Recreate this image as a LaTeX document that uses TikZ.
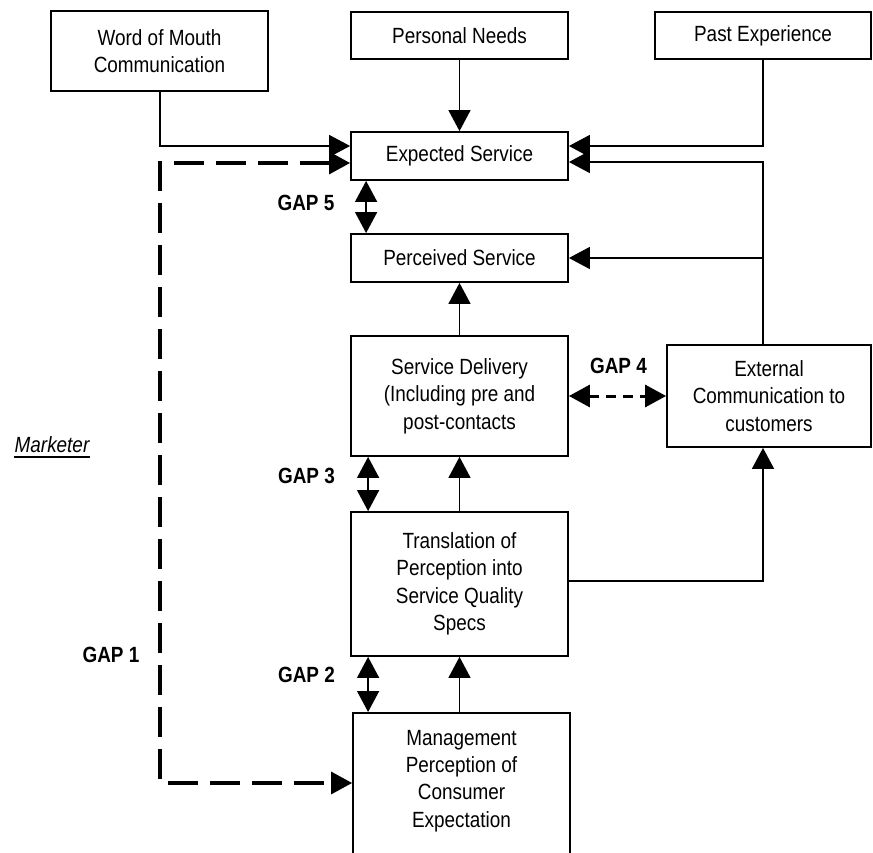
\documentclass[tikz,border=0pt]{standalone}
\usepackage{fontspec}
\setmainfont[FakeStretch=0.86]{Liberation Sans}
\usetikzlibrary{arrows.meta}
\begin{document}
\begin{tikzpicture}[x=1pt,y=-1pt,
  box/.style={draw, line width=1.8pt, inner sep=0pt, align=center,
              font=\fontsize{22}{27.4}\selectfont},
  conn/.style={line width=1.5pt},
  tip/.style={-{Triangle[length=21pt,width=22pt]}},
  dtip/.style={{Triangle[length=21pt,width=22pt]}-{Triangle[length=21pt,width=22pt]}},
  longdash/.style={line width=3.2pt, dash pattern=on 30pt off 12pt},
  shortdash/.style={line width=3pt, dash pattern=on 10pt off 7pt},
  gaplabel/.style={font=\fontsize{22}{26}\selectfont\bfseries, inner sep=0pt}]
\useasboundingbox (0,0) rectangle (873,853);
\clip (0,0) rectangle (873,853);

% boxes
\node[box, minimum width=217pt, minimum height=80pt] (wom) at (159.5,51) {Word of Mouth\\Communication};
\node[box, minimum width=217pt, minimum height=47pt] (pn) at (459.5,35.5) {Personal Needs};
\node[box, minimum width=216pt, minimum height=47pt] (pe) at (763,35.5) {Past Experience};
\node[box, minimum width=217pt, minimum height=48pt] (es) at (459.5,156) {Expected Service};
\node[box, minimum width=217pt, minimum height=48pt] (ps) at (459.5,258) {Perceived Service};
\node[box, minimum width=217pt, minimum height=120pt] (sd) at (459.5,396) {Service Delivery\\(Including pre and\\post-contacts};
\node[box, minimum width=204pt, minimum height=102pt] (ext) at (769,396) {External\\Communication to\\customers};
\node[box, minimum width=217pt, minimum height=144pt] (tr) at (459.5,584) {Translation of\\Perception into\\Service Quality\\Specs};
\node[box, minimum width=217pt, anchor=north, inner ysep=17pt, text depth=120pt] (mg) at (461.5,712) {Management\\Perception of\\Consumer\\Expectation};

% junction coordinates
\coordinate (wj) at (160,146);
\coordinate (pj) at (763,146);
\coordinate (ej) at (763,162);
\coordinate (tj) at (763,581);
\coordinate (dj1) at (160,163);
\coordinate (dj2) at (160,783);

% connectors
\draw[conn,tip] (pn) -- (es);
\draw[conn,tip] (wom.south -| wj) |- (es.west |- wj);
\draw[conn,tip] (pe.south) |- (es.east |- pj);
\draw[conn,tip] (ext.north -| ej) |- (es.east |- ej);
\draw[conn,tip] (ps.east -| ej) -- (ps.east);
\draw[conn,tip] (sd) -- (ps);
\draw[conn,tip] (tr) -- (sd);
\draw[conn,tip] (mg.north -| tr.south) -- (tr.south);
\draw[conn,tip] (tr.east |- tj) -| (ext.south -| tj);

% gaps
\draw[conn,dtip] ([xshift=16pt]es.south west) -- ([xshift=16pt]ps.north west);
\draw[conn,dtip] ([xshift=18pt]sd.south west) -- ([xshift=18pt]tr.north west);
\draw[conn,dtip] ([xshift=18pt]tr.south west) -- ([xshift=18pt]tr.south west |- mg.north);
\draw[shortdash,dtip] (sd.east) -- (sd.east -| ext.west);
\draw[longdash,dtip] (es.west |- dj1) -- (dj1) -- (dj2) -- (mg.west |- dj2);

% labels
\node[gaplabel] (g5) at (306,203) {GAP 5};
\node[gaplabel] (g4) at (618.5,366) {GAP 4};
\node[gaplabel] (g3) at (306.5,476) {GAP 3};
\node[gaplabel] (g2) at (306.5,675) {GAP 2};
\node[gaplabel] (g1) at (111,655) {GAP 1};
\node[font=\fontsize{22}{26}\selectfont\itshape, inner sep=0pt, anchor=base] (mk) at (52,452) {Marketer};
\draw[line width=1.8pt] ([yshift=-5pt]mk.base west) -- ([yshift=-5pt]mk.base east);
\end{tikzpicture}
\end{document}
